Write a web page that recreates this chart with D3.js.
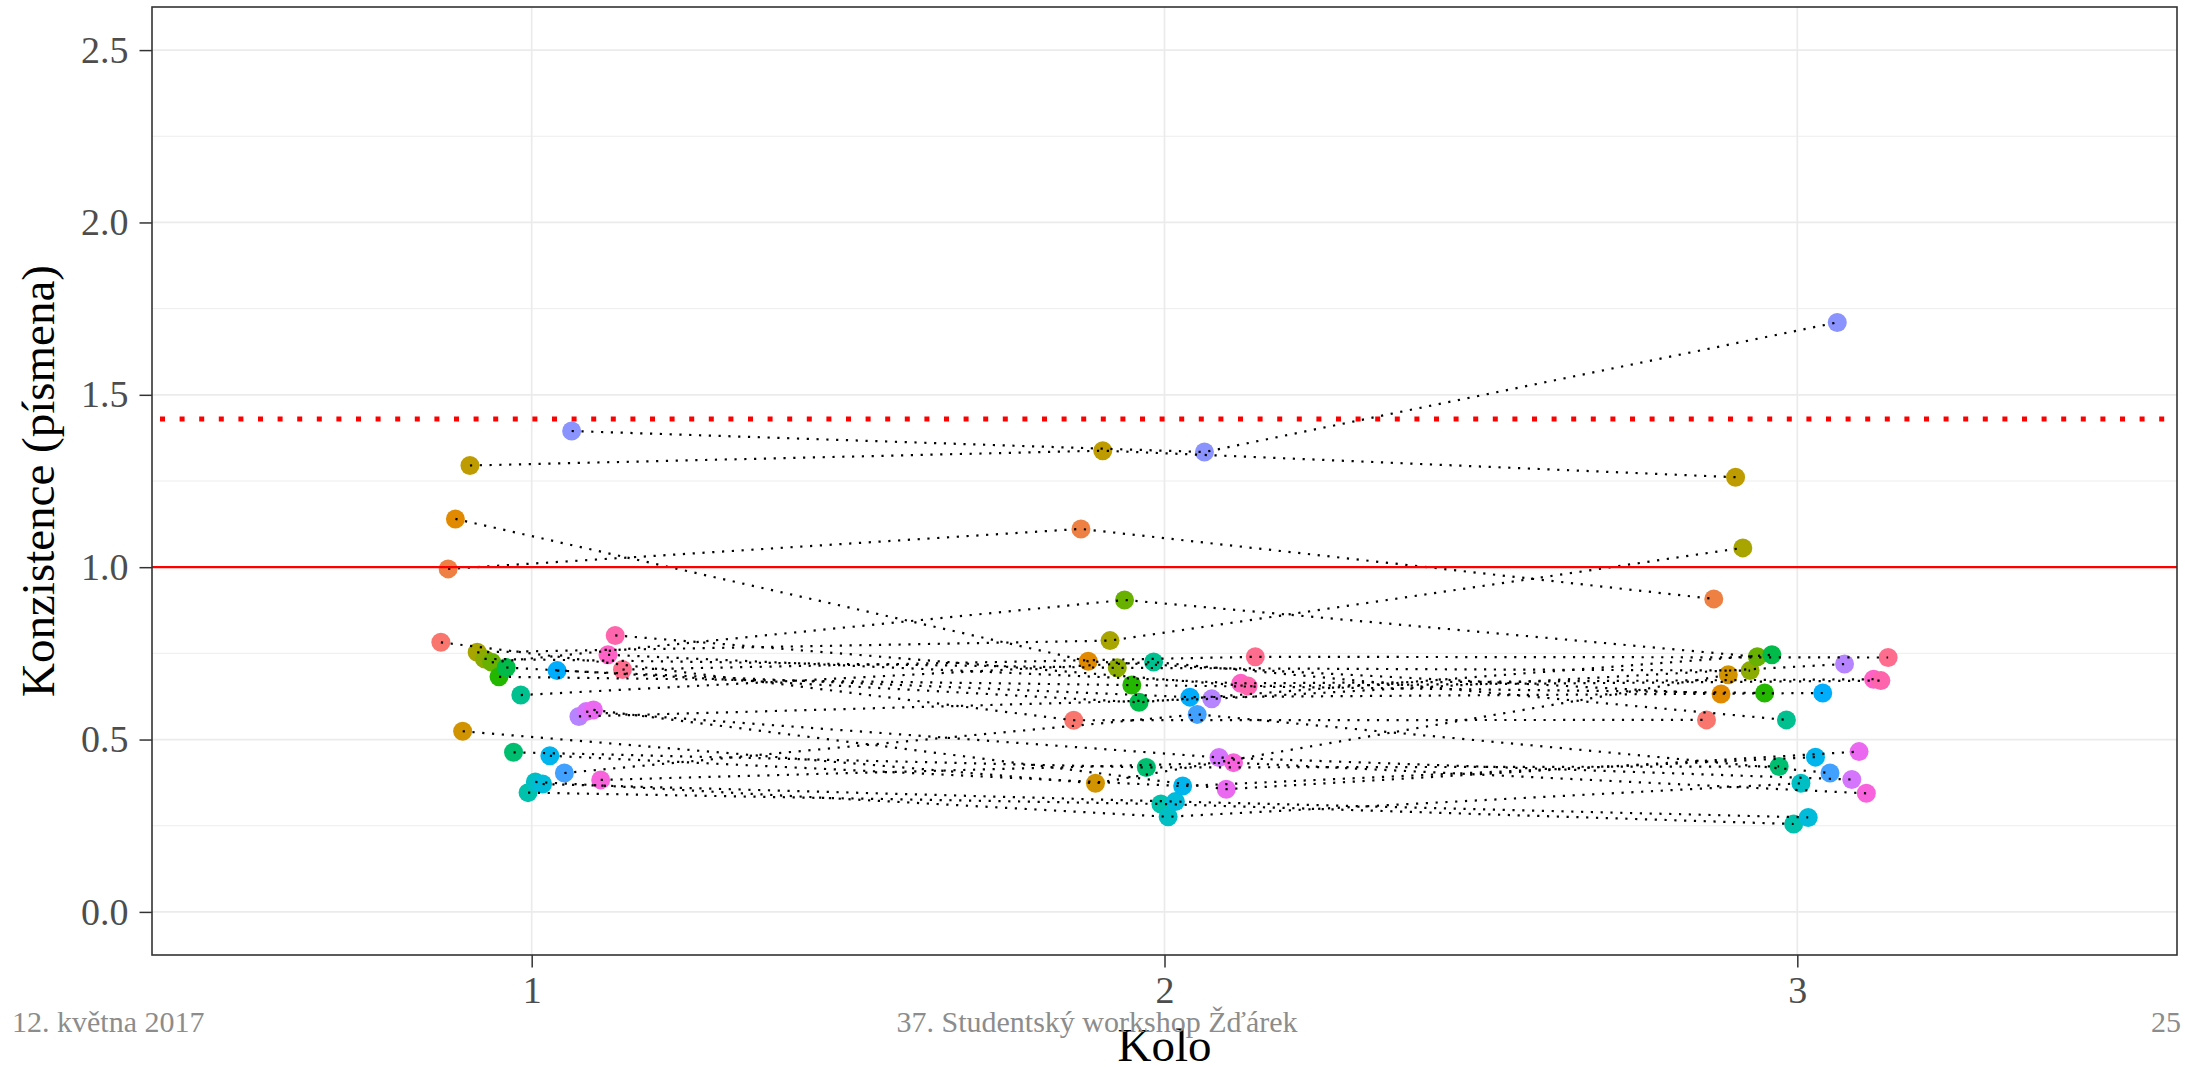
<!DOCTYPE html>
<html>
<head>
<meta charset="utf-8">
<script src="https://cdn.jsdelivr.net/npm/d3@7"></script>
<style>
  html, body { margin: 0; padding: 0; background: #fff; }
  svg { display: block; }
  text { font-family: "Liberation Serif", "DejaVu Serif", serif; }
</style>
</head>
<body>
<svg id="chart" width="2185" height="1067"></svg>
<script>
// ---- data ----
const kola = [1, 2, 3];
const subjects = ["1","2","3","4","5","6","7","8","9","10","11","12","13",
                  "14","15","16","17","18","19","20","21","22","23","24","25","26"];
const kolo1 = [0.782, 0.995, 1.140, 0.524, 1.295, 0.753, 0.734, 0.724, 0.682, 0.709, 0.463, 0.629, 0.346,
               0.377, 0.371, 0.453, 0.700, 0.403, 1.395, 0.567, 0.581, 0.586, 0.383, 0.746, 0.802, 0.703];
const kolo2 = [0.556, 1.111, 0.727, 0.373, 1.338, 0.787, 0.708, 0.905, 0.658, 0.608, 0.419, 0.725, 0.313,
               0.276, 0.320, 0.365, 0.623, 0.573, 1.334, 0.618, 0.448, 0.356, 0.433, 0.663, 0.655, 0.740];
const kolo3 = [0.557, 0.908, 0.632, 0.688, 1.261, 1.056, 0.700, 0.740, 0.635, 0.746, 0.422, 0.557, 0.255,
               0.373, 0.274, 0.449, 0.635, 0.403, 1.710, 0.719, 0.384, 0.465, 0.344, 0.675, 0.671, 0.738];
const yTicks = [0.0, 0.5, 1.0, 1.5, 2.0, 2.5];
const yMinor = [0.25, 0.75, 1.25, 1.75, 2.25];
const refSolid = 1.0;
const refDotted = 1.43;
const footer = { left: "12. května 2017", center: "37. Studentský workshop Žďárek", right: "25" };

// ---- ggplot hue palette (polar LUV) ----
function hclLuv(h, c, l) {
  const hr = h * Math.PI / 180;
  const U = c * Math.cos(hr), V = c * Math.sin(hr);
  const Xn = 95.047, Yn = 100, Zn = 108.883;
  const den = Xn + 15 * Yn + 3 * Zn;
  const un = 4 * Xn / den, vn = 9 * Yn / den;
  const Y = l > 8 ? Yn * Math.pow((l + 16) / 116, 3) : Yn * l / 903.3;
  const u = U / (13 * l) + un, v = V / (13 * l) + vn;
  const X = 9 * Y * u / (4 * v);
  const Z = -X / 3 - 5 * Y + 3 * Y / v;
  const x = X / 100, y = Y / 100, z = Z / 100;
  let rgb = [
     3.240479 * x - 1.537150 * y - 0.498535 * z,
    -0.969256 * x + 1.875992 * y + 0.041556 * z,
     0.055648 * x - 0.204043 * y + 1.057311 * z];
  rgb = rgb.map(t => {
    t = t <= 0.0031308 ? 12.92 * t : 1.055 * Math.pow(t, 1 / 2.4) - 0.055;
    return Math.round(Math.max(0, Math.min(1, t)) * 255);
  });
  return d3.rgb(rgb[0], rgb[1], rgb[2]).formatHex();
}
const n = subjects.length;
const palette = subjects.map((s, i) => hclLuv(15 + i * 360 / n, 100, 65));
const color = d3.scaleOrdinal().domain(subjects).range(palette);

// ---- layout ----
const svg = d3.select("#chart");
const P = { left: 152, right: 2177, top: 7, bottom: 955 };
const x = d3.scaleLinear().domain([0.4, 3.6]).range([P.left, P.right]);
const y = d3.scaleLinear().domain([-0.125, 2.625]).range([P.bottom, P.top]);
const dodge = d3.scalePoint().domain(subjects).range([-0.1435, 0.1435]);

const rows = [];
const series = [kolo1, kolo2, kolo3];
subjects.forEach((s, i) => {
  kola.forEach((k, j) => rows.push({ s, kolo: k, v: series[j][i] }));
});
const bySubject = d3.group(rows, d => d.s);

// gridlines
const grid = svg.append("g");
grid.selectAll(".ymin").data(yMinor).join("line")
  .attr("x1", P.left).attr("x2", P.right)
  .attr("y1", d => y(d)).attr("y2", d => y(d))
  .attr("stroke", "#EBEBEB").attr("stroke-width", 0.9);
grid.selectAll(".ymaj").data(yTicks).join("line")
  .attr("x1", P.left).attr("x2", P.right)
  .attr("y1", d => y(d)).attr("y2", d => y(d))
  .attr("stroke", "#EBEBEB").attr("stroke-width", 1.7);
grid.selectAll(".xmaj").data(kola).join("line")
  .attr("y1", P.top).attr("y2", P.bottom)
  .attr("x1", d => x(d)).attr("x2", d => x(d))
  .attr("stroke", "#EBEBEB").attr("stroke-width", 1.7);

// points
svg.append("g").selectAll("circle").data(rows).join("circle")
  .attr("cx", d => x(d.kolo + dodge(d.s)))
  .attr("cy", d => y(d.v))
  .attr("r", 9.5)
  .attr("fill", d => color(d.s));

// subject lines (dotted)
const line = d3.line().x(d => x(d.kolo + dodge(d.s))).y(d => y(d.v));
svg.append("g").selectAll("path").data(Array.from(bySubject.values())).join("path")
  .attr("d", line)
  .attr("fill", "none")
  .attr("stroke", "#000")
  .attr("stroke-width", 2.2)
  .attr("stroke-dasharray", "2.2,7.6");

// reference lines
svg.append("line")
  .attr("x1", P.left).attr("x2", P.right)
  .attr("y1", y(refSolid)).attr("y2", y(refSolid))
  .attr("stroke", "#FF0000").attr("stroke-width", 2.2);
svg.append("line")
  .attr("x1", P.left + 8).attr("x2", P.right)
  .attr("y1", y(refDotted)).attr("y2", y(refDotted))
  .attr("stroke", "#FF0000").attr("stroke-width", 5)
  .attr("stroke-dasharray", "5,14.6");

// panel border
svg.append("rect")
  .attr("x", P.left).attr("y", P.top)
  .attr("width", P.right - P.left).attr("height", P.bottom - P.top)
  .attr("fill", "none").attr("stroke", "#333333").attr("stroke-width", 1.6);

// axes
const yAxis = svg.append("g")
  .attr("transform", `translate(${P.left},0)`)
  .call(d3.axisLeft(y).tickValues(yTicks).tickFormat(d3.format(".1f"))
        .tickSize(12.5).tickSizeOuter(0).tickPadding(11));
const xAxis = svg.append("g")
  .attr("transform", `translate(0,${P.bottom})`)
  .call(d3.axisBottom(x).tickValues(kola).tickFormat(d3.format("d"))
        .tickSize(12.5).tickSizeOuter(0).tickPadding(9));
[yAxis, xAxis].forEach(g => {
  g.select(".domain").remove();
  g.selectAll(".tick line").attr("stroke", "#333333").attr("stroke-width", 1.5);
  g.selectAll(".tick text").attr("fill", "#4D4D4D")
    .style("font-family", '"Liberation Serif", serif').style("font-size", "38px");
});

// axis titles
svg.append("text")
  .attr("x", (P.left + P.right) / 2).attr("y", 1061)
  .attr("text-anchor", "middle").attr("fill", "#000")
  .style("font-size", "47px").text("Kolo");
svg.append("text")
  .attr("transform", `translate(54,${(P.top + P.bottom) / 2}) rotate(-90)`)
  .attr("text-anchor", "middle").attr("fill", "#000")
  .style("font-size", "47px").text("Konzistence (písmena)");

// slide footer
svg.append("text").attr("x", 12).attr("y", 1032)
  .attr("fill", "#8C8C8C").style("font-size", "30px").text(footer.left);
svg.append("text").attr("x", 1097).attr("y", 1032).attr("text-anchor", "middle")
  .attr("fill", "#8C8C8C").style("font-size", "30px").text(footer.center);
svg.append("text").attr("x", 2181).attr("y", 1032).attr("text-anchor", "end")
  .attr("fill", "#8C8C8C").style("font-size", "30px").text(footer.right);
</script>
</body>
</html>
